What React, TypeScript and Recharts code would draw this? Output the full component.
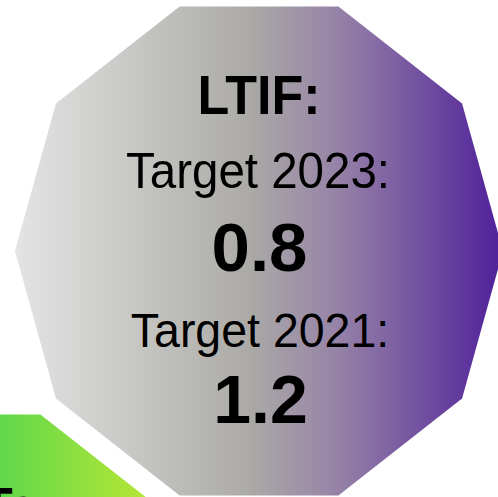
import { RadarChart, Radar, PolarAngleAxis, PolarRadiusAxis } from "recharts";

// ten sides of the badge, radius (px) for each vertex
const sides = ["s1", "s2", "s3", "s4", "s5", "s6", "s7", "s8", "s9", "s10"];
const radii = [244, 251, 257, 257, 251, 244, 251, 257, 257, 251];

const title = "LTIF:";
const targetLabels = ["Target 2023:", "Target 2021:"];
const targetValues = ["0.8", "1.2"];
const cutLabel = "Ta";

const shapeData = sides.map((side, i) => ({ side, r: radii[i] }));

const font = "'Liberation Sans', Arial, sans-serif";

function Badge({
  width,
  height,
  cx,
  cy,
  fill,
  gradient,
}: {
  width: number;
  height: number;
  cx: number;
  cy: number;
  fill: string;
  gradient: React.ReactNode;
}) {
  return (
    <RadarChart
      width={width}
      height={height}
      cx={cx}
      cy={cy}
      outerRadius={260}
      startAngle={0}
      endAngle={-360}
      data={shapeData}
      margin={{ top: 0, right: 0, bottom: 0, left: 0 }}
    >
      <defs>{gradient}</defs>
      <PolarAngleAxis dataKey="side" tick={false} axisLine={false} tickLine={false} />
      <PolarRadiusAxis domain={[0, 260]} tick={false} axisLine={false} />
      <Radar
        dataKey="r"
        fill={fill}
        fillOpacity={1}
        stroke="none"
        dot={false}
        isAnimationActive={false}
      />
    </RadarChart>
  );
}

export default function App() {
  return (
    <div
      style={{
        position: "absolute",
        left: 0,
        top: 0,
        width: 498,
        height: 497,
        overflow: "hidden",
        background: "#ffffff",
      }}
    >
      <div style={{ position: "absolute", left: 0, top: 0 }}>
        <Badge
          width={498}
          height={497}
          cx={259}
          cy={251}
          fill="url(#grayPurple)"
          gradient={
            <linearGradient id="grayPurple" gradientUnits="userSpaceOnUse" x1={15} y1={0} x2={503} y2={0}>
              <stop offset="0" stopColor="#e4e4e4" />
              <stop offset="0.48" stopColor="#abaaa6" />
              <stop offset="0.66" stopColor="#9683a7" />
              <stop offset="1" stopColor="#4f1f9a" />
            </linearGradient>
          }
        />
      </div>
      <div style={{ position: "absolute", left: -339, top: 359 }}>
        <Badge
          width={600}
          height={600}
          cx={300}
          cy={300}
          fill="url(#greenGrad)"
          gradient={
            <linearGradient id="greenGrad" gradientUnits="userSpaceOnUse" x1={339} y1={0} x2={489} y2={0}>
              <stop offset="0" stopColor="#5fd84a" />
              <stop offset="1" stopColor="#b8e634" />
            </linearGradient>
          }
        />
      </div>
      <svg
        width={498}
        height={497}
        style={{ position: "absolute", left: 0, top: 0, pointerEvents: "none" }}
        fontFamily={font}
      >
        <text transform="translate(259,114) scale(1,1.05)" textAnchor="middle" fontSize={52} fontWeight="bold" fill="#000">
          {title}
        </text>
        <text transform="translate(258,188) scale(1,1.04)" textAnchor="middle" fontSize={47.5} fill="#000">
          {targetLabels[0]}
        </text>
        <text x={259.5} y={271} textAnchor="middle" fontSize={69} fontWeight="bold" fill="#000">
          {targetValues[0]}
        </text>
        <text transform="translate(260,347) scale(1,1.05)" textAnchor="middle" fontSize={46.5} fill="#000">
          {targetLabels[1]}
        </text>
        <text x={260.5} y={423} textAnchor="middle" fontSize={68} fontWeight="bold" fill="#000">
          {targetValues[1]}
        </text>
        <text x={-19} y={524} fontSize={52} fontWeight="bold" fill="#000">
          {cutLabel}
        </text>
      </svg>
    </div>
  );
}
